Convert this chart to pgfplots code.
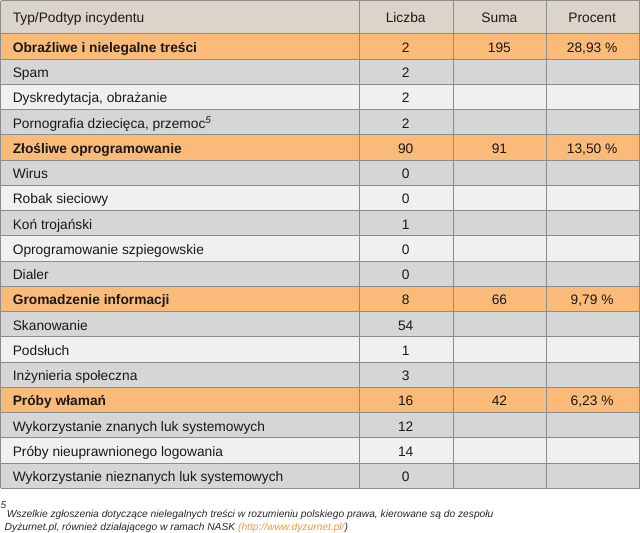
\documentclass[border=0pt]{standalone}
\usepackage{fontspec}
\setmainfont{Liberation Sans}
\usepackage{pgfplots}
\pgfplotsset{compat=1.18}
\definecolor{hdr}{RGB}{219,212,200}
\definecolor{org}{RGB}{250,186,120}
\definecolor{gry}{RGB}{212,214,216}
\definecolor{lgt}{RGB}{240,240,240}
\definecolor{gridc}{RGB}{140,140,140}
\definecolor{txt}{RGB}{25,25,25}
\definecolor{notec}{RGB}{40,40,40}
\definecolor{url}{RGB}{240,150,60}
\newcommand\cellfont{\fontsize{13.7}{16}\selectfont}
\newcommand\notefont{\fontsize{10.2}{12}\selectfont\itshape}
\pgfplotsset{
  label/.style={draw=none, mark=none, nodes near coords, point meta=explicit symbolic,
    every node near coord/.append style={inner sep=0pt, text=txt, font=\cellfont}},
  lft/.style={label, every node near coord/.append style={anchor=base west}},
  ctr/.style={label, every node near coord/.append style={anchor=base}},
  cell/.style={draw=none, fill=#1, mark=none, unbounded coords=jump},
}
\begin{document}
\begin{tikzpicture}
\begin{axis}[width=640bp, height=535bp, scale only axis,
  xmin=0, xmax=640, ymin=0, ymax=535, y dir=reverse,
  axis lines=none, clip=false]
% backgrounds
\addplot[cell=hdr] coordinates {(3,4) (637,4) (637,37) (3,37)};
\addplot[cell=org] coordinates {
 (3,37)(637,37)(637,62.1)(3,62.1) (3,nan)
 (3,137.2)(637,137.2)(637,162.3)(3,162.3) (3,nan)
 (3,287.6)(637,287.6)(637,312.7)(3,312.7) (3,nan)
 (3,387.8)(637,387.8)(637,412.9)(3,412.9)};
\addplot[cell=gry] coordinates {
 (3,62.1)(637,62.1)(637,87.1)(3,87.1) (3,nan)
 (3,112.2)(637,112.2)(637,137.2)(3,137.2) (3,nan)
 (3,162.3)(637,162.3)(637,187.4)(3,187.4) (3,nan)
 (3,212.4)(637,212.4)(637,237.5)(3,237.5) (3,nan)
 (3,262.5)(637,262.5)(637,287.6)(3,287.6) (3,nan)
 (3,312.7)(637,312.7)(637,337.7)(3,337.7) (3,nan)
 (3,362.8)(637,362.8)(637,387.8)(3,387.8) (3,nan)
 (3,412.9)(637,412.9)(637,438.0)(3,438.0) (3,nan)
 (3,463.0)(637,463.0)(637,488.1)(3,488.1)};
\addplot[cell=lgt] coordinates {
 (3,87.1)(637,87.1)(637,112.2)(3,112.2) (3,nan)
 (3,187.4)(637,187.4)(637,212.4)(3,212.4) (3,nan)
 (3,237.5)(637,237.5)(637,262.5)(3,262.5) (3,nan)
 (3,337.7)(637,337.7)(637,362.8)(3,362.8) (3,nan)
 (3,438.0)(637,438.0)(637,463.0)(3,463.0)};
% grid lines
\addplot[gridc, line width=1bp, mark=none, unbounded coords=jump] coordinates {
 (3,4)(637,4) (3,nan) (3,37)(637,37) (3,nan) (3,62.1)(637,62.1) (3,nan)
 (3,87.1)(637,87.1) (3,nan) (3,112.2)(637,112.2) (3,nan) (3,137.2)(637,137.2) (3,nan)
 (3,162.3)(637,162.3) (3,nan) (3,187.4)(637,187.4) (3,nan) (3,212.4)(637,212.4) (3,nan)
 (3,237.5)(637,237.5) (3,nan) (3,262.5)(637,262.5) (3,nan) (3,287.6)(637,287.6) (3,nan)
 (3,312.7)(637,312.7) (3,nan) (3,337.7)(637,337.7) (3,nan) (3,362.8)(637,362.8) (3,nan)
 (3,387.8)(637,387.8) (3,nan) (3,412.9)(637,412.9) (3,nan) (3,438.0)(637,438.0) (3,nan)
 (3,463.0)(637,463.0) (3,nan) (3,488.1)(637,488.1) (3,nan)
 (3,4)(3,488.1) (nan,4) (359.5,4)(359.5,488.1) (nan,4) (452.5,4)(452.5,488.1) (nan,4)
 (545,4)(545,488.1) (nan,4) (637,4)(637,488.1)};
% header text
\addplot[lft] coordinates {(15,25.5) [Typ/Podtyp incydentu]};
\addplot[ctr] coordinates {(405,25.5) [Liczba] (498,25.5) [Suma] (590,25.5) [Procent]};
% bold category labels
\addplot[lft, every node near coord/.append style={font=\cellfont\bfseries}] coordinates {
 (15,55.5) [Obraźliwe i nielegalne treści]
 (15,155.7) [Złośliwe oprogramowanie]
 (15,306.1) [Gromadzenie informacji]
 (15,406.3) [Próby włamań]};
% subtype labels
\addplot[lft] coordinates {
 (15,80.6) [Spam]
 (15,105.6) [{Dyskredytacja, obrażanie}]
 (15,130.7) [{Pornografia dziecięca, przemoc\raisebox{5bp}{\fontsize{10}{10}\selectfont\itshape 5}}]
 (15,180.8) [Wirus]
 (15,205.9) [Robak sieciowy]
 (15,230.9) [Koń trojański]
 (15,256.0) [Oprogramowanie szpiegowskie]
 (15,281.0) [Dialer]
 (15,331.2) [Skanowanie]
 (15,356.2) [Podsłuch]
 (15,381.3) [Inżynieria społeczna]
 (15,431.4) [Wykorzystanie znanych luk systemowych]
 (15,456.5) [Próby nieuprawnionego logowania]
 (15,481.5) [Wykorzystanie nieznanych luk systemowych]};
% Liczba
\addplot[ctr] coordinates {
 (405,55.5) [2] (405,80.6) [2] (405,105.6) [2] (405,130.7) [2]
 (405,155.7) [90] (405,180.8) [0] (405,205.9) [0] (405,230.9) [1]
 (405,256.0) [0] (405,281.0) [0] (405,306.1) [8] (405,331.2) [54]
 (405,356.2) [1] (405,381.3) [3] (405,406.3) [16] (405,431.4) [12]
 (405,456.5) [14] (405,481.5) [0]};
% Suma
\addplot[ctr] coordinates {
 (498,55.5) [195] (498,155.7) [91] (498,306.1) [66] (498,406.3) [42]};
% Procent
\addplot[ctr] coordinates {
 (590,55.5) [{28,93 \%}] (590,155.7) [{13,50 \%}] (590,306.1) [{9,79 \%}] (590,406.3) [{6,23 \%}]};
% footnote
\addplot[lft, every node near coord/.append style={font=\fontsize{10}{10}\selectfont\itshape, text=notec}] coordinates {
 (3,508) [5]};
\addplot[lft, every node near coord/.append style={font=\notefont, text=notec}] coordinates {
 (9,517) [{Wszelkie zgłoszenia dotyczące nielegalnych treści w rozumieniu polskiego prawa, kierowane są do zespołu}]
 (7,530) [{Dyżurnet.pl, również działającego w ramach NASK \textcolor{url}{(http://www.dyzurnet.pl/}})]};
\end{axis}
\end{tikzpicture}
\end{document}
